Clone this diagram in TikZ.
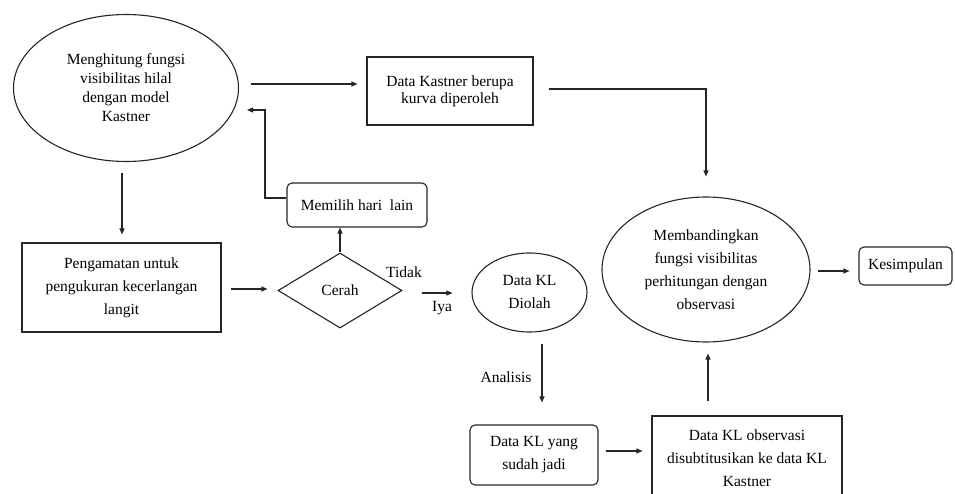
\documentclass[tikz,border=0pt]{standalone}
\usepackage{fontspec}
\setmainfont{Liberation Serif}
\usetikzlibrary{arrows.meta,shapes.geometric}
\begin{document}
\begin{tikzpicture}[x=1pt,y=-1pt,
  every node/.style={font=\fontsize{15.5}{23}\selectfont, text=black},
  ln/.style={draw=black!85, line width=1.1pt},
  arr/.style={ln, -{Triangle[length=6pt,width=5pt]}},
  ell/.style={ln, ellipse, inner sep=0pt, align=center},
  boxx/.style={ln, rectangle, inner sep=0pt, align=center},
  rbox/.style={ln, rectangle, rounded corners=5pt, inner sep=0pt, align=center},
  lbl/.style={inner sep=0pt}
]
\useasboundingbox (0,0) rectangle (955,494);
\fill[white] (0,0) rectangle (955,494);

\node[ell, minimum width=225, minimum height=147, font=\fontsize{15.5}{19}\selectfont] (m1) at (126,88)
  {Menghitung fungsi\\visibilitas hilal\\dengan model\\Kastner};
\node[boxx, minimum width=166, minimum height=68, font=\fontsize{15.5}{17}\selectfont] (dk) at (450,91)
  {Data Kastner berupa\\kurva diperoleh};
\node[ell, minimum width=208, minimum height=145] (m2) at (706,269.5)
  {Membandingkan\\fungsi visibilitas\\perhitungan dengan\\observasi};
\node[rbox, minimum width=140, minimum height=44] (pilih) at (357,205) {Memilih hari~ lain};
\node[boxx, minimum width=199, minimum height=89] (peng) at (121.5,287.5)
  {Pengamatan untuk\\pengukuran kecerlangan\\langit};
\node[ln, diamond, inner sep=0pt, minimum width=124, minimum height=75] (cerah) at (340,290.5) {Cerah};
\node[ell, minimum width=115, minimum height=79] (diolah) at (529.5,292.5) {Data KL\\Diolah};
\node[rbox, minimum width=128, minimum height=60] (jadi) at (534,455) {Data KL yang\\sudah jadi};
\node[boxx, minimum width=190, minimum height=84] (obs) at (747,458)
  {Data KL observasi\\disubtitusikan ke data KL\\Kastner};
\node[rbox, minimum width=93, minimum height=38] (kes) at (905.5,266) {Kesimpulan};

\node[lbl] (tidak) at (404,272) {Tidak};
\node[lbl] (iya) at (442,308) {Iya};
\node[lbl] (anal) at (506,377) {Analisis};

\coordinate (fb) at (247,110);

\draw[arr, shorten <=12pt, shorten >=9pt] (m1.east |- 0,84) -- (dk.west |- 0,84);
\draw[arr, shorten <=15pt, shorten >=20pt] (dk.east |- 0,89) -| (m2.north);
\draw[arr, shorten <=11pt, shorten >=8pt] (m1.south -| 122,0) -- (peng.north -| 122,0);
\draw[arr, shorten <=9pt, shorten >=10pt] (peng.east |- 0,289) -- (cerah.west |- 0,289);
\draw[arr] (cerah.north) -- (cerah.north |- pilih.south);
\draw[arr] (pilih.west |- 0,198) -- (265,198) -- (265,110) -- (fb);
\draw[arr, shorten <=19pt, shorten >=19pt] (cerah.east |- 0,293) -- (diolah.west |- 0,293);
\draw[arr, shorten <=11pt, shorten >=22pt] (diolah.south -| 542,0) -- (jadi.north -| 542,0);
\draw[arr, shorten <=7pt, shorten >=9pt] (jadi.east |- 0,451) -- (obs.west |- 0,451);
\draw[arr, shorten <=14pt, shorten >=11pt] (obs.north -| 708,0) -- (m2.south -| 708,0);
\draw[arr, shorten <=7pt, shorten >=9pt] (m2.east |- 0,271) -- (kes.west |- 0,271);
\end{tikzpicture}
\end{document}
